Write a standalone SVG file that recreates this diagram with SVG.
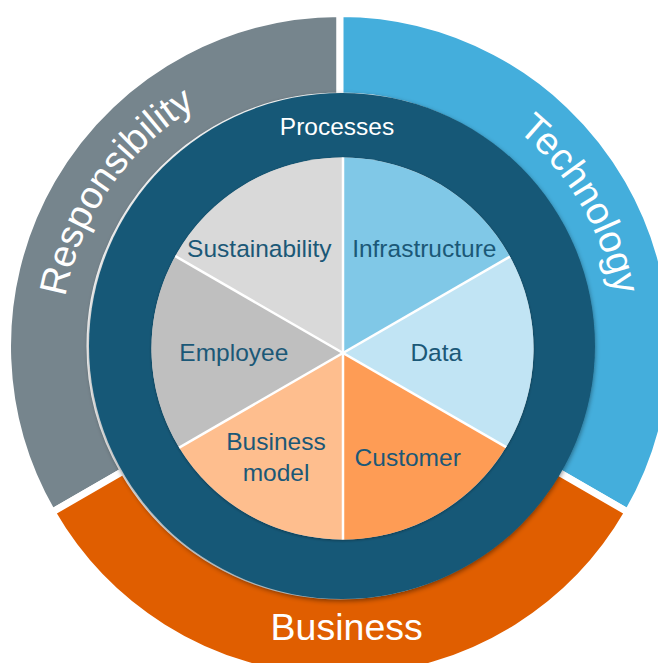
<svg xmlns="http://www.w3.org/2000/svg" xmlns:xlink="http://www.w3.org/1999/xlink" width="658" height="663" viewBox="0 0 658 663">
  <style>
    .seg { stroke: #ffffff; stroke-width: 7; stroke-linejoin: miter; }
    .outerlbl { font-family: "Liberation Sans", Arial, sans-serif; font-size: 37.5px; fill: #ffffff; }
    .arclbl { font-family: "Liberation Sans", Arial, sans-serif; font-size: 38.5px; fill: #ffffff; }
    .ringlbl { font-family: "Liberation Sans", Arial, sans-serif; font-size: 24.5px; fill: #ffffff; }
    .pielbl { font-family: "Liberation Sans", Arial, sans-serif; font-size: 24.5px; fill: #1b5877; text-anchor: middle; }
    .divider { stroke: #ffffff; stroke-width: 2.5; fill: none; }
  </style>
  <defs>
    <filter id="shadow" x="-10%" y="-10%" width="120%" height="120%">
      <feDropShadow dx="0" dy="2" stdDeviation="2.5" flood-color="#000000" flood-opacity="0.45"/>
    </filter>
    <filter id="pieshadow" x="-10%" y="-10%" width="120%" height="120%">
      <feDropShadow dx="0" dy="1" stdDeviation="1.5" flood-color="#000000" flood-opacity="0.35"/>
    </filter>
    <path id="arcResp" d="M97.2,483.4 A279,279 0 0 1 381.2,70.1"/>
    <path id="arcTech" d="M318.1,67.9 A279,279 0 0 1 572.7,500.0"/>
  </defs>

  <!-- Outer ring segments -->
  <g id="responsibility">
    <path class="seg" fill="#76858d" d="M52.05,512.25 A332.5,332.5 0 0 1 340,13.5 L340,96 A250,250 0 0 0 123.49,471 Z"/>
    <text class="arclbl"><textPath xlink:href="#arcResp" href="#arcResp" startOffset="50%" text-anchor="middle">Responsibility</textPath></text>
  </g>
  <g id="technology">
    <path class="seg" fill="#44aedc" d="M340,13.5 A332.5,332.5 0 0 1 627.95,512.25 L556.51,471 A250,250 0 0 0 340,96 Z"/>
    <text class="arclbl"><textPath xlink:href="#arcTech" href="#arcTech" startOffset="50%" text-anchor="middle">Technology</textPath></text>
  </g>
  <g id="business">
    <path class="seg" fill="#e05e00" d="M627.95,512.25 A332.5,332.5 0 0 1 52.05,512.25 L123.49,471 A250,250 0 0 0 556.51,471 Z"/>
    <text class="outerlbl" x="346.7" y="640" text-anchor="middle">Business</text>
  </g>

  <!-- Processes ring -->
  <g id="processes">
    <circle cx="342" cy="346" r="253" fill="#175977" filter="url(#shadow)"/>
    <text class="ringlbl" x="337" y="135" text-anchor="middle">Processes</text>
  </g>

  <!-- Pie base -->
  <circle cx="342.5" cy="348.5" r="191" fill="#cccccc" filter="url(#pieshadow)"/>

  <g id="sustainability">
    <path fill="#d9d9d9" d="M343,353 L175.3,256.2 A191,191 0 0 1 343,157.5 Z"/>
    <text class="pielbl" x="259.3" y="256.5">Sustainability</text>
  </g>
  <g id="infrastructure">
    <path fill="#80c8e7" d="M343,353 L343,157.5 A191,191 0 0 1 509.9,256.6 Z"/>
    <text class="pielbl" x="424.3" y="256.5">Infrastructure</text>
  </g>
  <g id="data">
    <path fill="#c1e4f4" d="M343,353 L509.9,256.6 A191,191 0 0 1 506.1,447.1 Z"/>
    <text class="pielbl" x="436.3" y="361">Data</text>
  </g>
  <g id="customer">
    <path fill="#fe9c55" d="M343,353 L506.1,447.1 A191,191 0 0 1 343,539.5 Z"/>
    <text class="pielbl" x="407.7" y="466">Customer</text>
  </g>
  <g id="business-model">
    <path fill="#febe8e" d="M343,353 L343,539.5 A191,191 0 0 1 179.2,447.6 Z"/>
    <text class="pielbl" x="276" y="450"><tspan x="276" y="450">Business</tspan><tspan x="276" y="480.7">model</tspan></text>
  </g>
  <g id="employee">
    <path fill="#bfbfbf" d="M343,353 L179.2,447.6 A191,191 0 0 1 175.3,256.2 Z"/>
    <text class="pielbl" x="233.8" y="361">Employee</text>
  </g>

  <g id="connectors">
    <line class="divider" x1="343" y1="157.5" x2="343" y2="539.5"/>
    <line class="divider" x1="175.3" y1="256.2" x2="506.1" y2="447.1"/>
    <line class="divider" x1="179.2" y1="447.6" x2="509.9" y2="256.6"/>
  </g>
</svg>
